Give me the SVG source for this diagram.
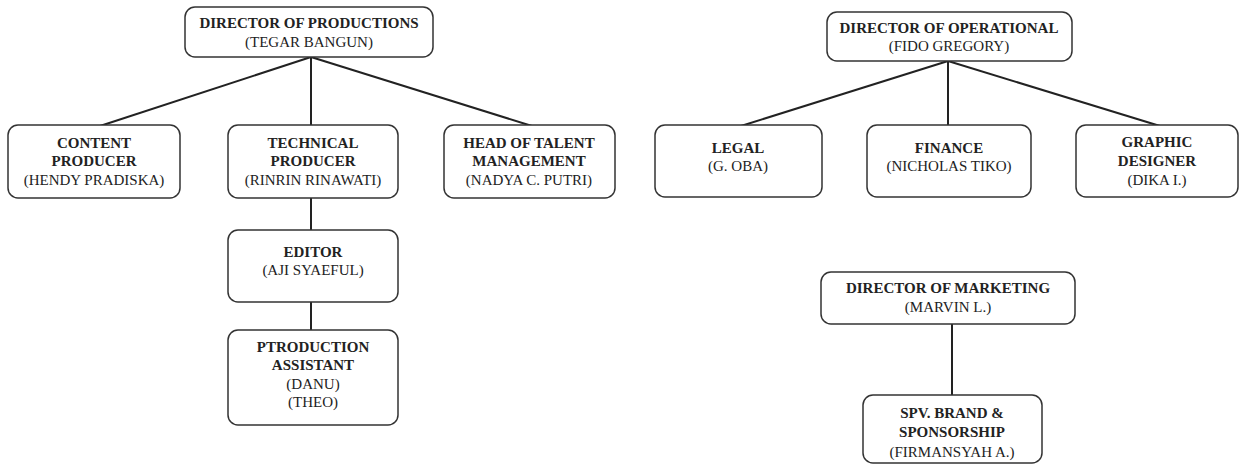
<svg xmlns="http://www.w3.org/2000/svg" width="1241" height="470" viewBox="0 0 1241 470">
<style>
.box{fill:#fff;stroke:#333;stroke-width:1.5}
.t{font-family:"Liberation Serif","Times New Roman",serif;font-size:15px;fill:#222;text-anchor:middle}
.b{font-weight:bold}
.c{stroke:#222;stroke-width:2;fill:none}
</style>
<rect width="1241" height="470" fill="#fff"/>
<g id="connectors">
<line class="c" x1="311" y1="57" x2="100" y2="126"/>
<line class="c" x1="311" y1="57" x2="311" y2="126"/>
<line class="c" x1="311" y1="57" x2="532" y2="126"/>
<line class="c" x1="311" y1="198" x2="311" y2="230"/>
<line class="c" x1="311" y1="302" x2="311" y2="330"/>
<line class="c" x1="948" y1="61" x2="741" y2="126"/>
<line class="c" x1="948" y1="61" x2="948" y2="126"/>
<line class="c" x1="948" y1="61" x2="1160" y2="126"/>
<line class="c" x1="952" y1="324" x2="952" y2="395"/>
</g>
<g id="dir-productions">
<rect class="box" x="185" y="7" width="248" height="50" rx="10"/>
<text class="t b" x="309" y="28">DIRECTOR OF PRODUCTIONS</text>
<text class="t" x="309" y="47">(TEGAR BANGUN)</text>
</g>
<g id="content-producer">
<rect class="box" x="8" y="125" width="172" height="73" rx="10"/>
<text class="t b" x="94" y="148">CONTENT</text>
<text class="t b" x="94" y="166">PRODUCER</text>
<text class="t" x="94" y="185">(HENDY PRADISKA)</text>
</g>
<g id="technical-producer">
<rect class="box" x="228" y="125" width="170" height="73" rx="10"/>
<text class="t b" x="313" y="148">TECHNICAL</text>
<text class="t b" x="313" y="166">PRODUCER</text>
<text class="t" x="313" y="185">(RINRIN RINAWATI)</text>
</g>
<g id="head-talent">
<rect class="box" x="444" y="125" width="171" height="73" rx="10"/>
<text class="t b" x="529" y="148">HEAD OF TALENT</text>
<text class="t b" x="529" y="166">MANAGEMENT</text>
<text class="t" x="529" y="185">(NADYA C. PUTRI)</text>
</g>
<g id="editor">
<rect class="box" x="228" y="230" width="170" height="72" rx="10"/>
<text class="t b" x="313" y="257">EDITOR</text>
<text class="t" x="313" y="275">(AJI SYAEFUL)</text>
</g>
<g id="production-assistant">
<rect class="box" x="228" y="330" width="170" height="95" rx="10"/>
<text class="t b" x="313" y="352">PTRODUCTION</text>
<text class="t b" x="313" y="370">ASSISTANT</text>
<text class="t" x="313" y="389">(DANU)</text>
<text class="t" x="313" y="407">(THEO)</text>
</g>
<g id="dir-operational">
<rect class="box" x="827" y="12" width="245" height="49" rx="10"/>
<text class="t b" x="949" y="33">DIRECTOR OF OPERATIONAL</text>
<text class="t" x="949" y="51">(FIDO GREGORY)</text>
</g>
<g id="legal">
<rect class="box" x="655" y="125" width="167" height="72" rx="10"/>
<text class="t b" x="738" y="153">LEGAL</text>
<text class="t" x="738" y="171">(G. OBA)</text>
</g>
<g id="finance">
<rect class="box" x="867" y="125" width="164" height="72" rx="10"/>
<text class="t b" x="949" y="153">FINANCE</text>
<text class="t" x="949" y="171">(NICHOLAS TIKO)</text>
</g>
<g id="graphic-designer">
<rect class="box" x="1076" y="125" width="162" height="72" rx="10"/>
<text class="t b" x="1157" y="147">GRAPHIC</text>
<text class="t b" x="1157" y="166">DESIGNER</text>
<text class="t" x="1157" y="185">(DIKA I.)</text>
</g>
<g id="dir-marketing">
<rect class="box" x="821" y="272" width="254" height="52" rx="10"/>
<text class="t b" x="948" y="293">DIRECTOR OF MARKETING</text>
<text class="t" x="948" y="312">(MARVIN L.)</text>
</g>
<g id="spv-brand">
<rect class="box" x="863" y="395" width="179" height="68" rx="10"/>
<text class="t b" x="952" y="418">SPV. BRAND &amp;</text>
<text class="t b" x="952" y="437">SPONSORSHIP</text>
<text class="t" x="952" y="457">(FIRMANSYAH A.)</text>
</g>
</svg>
